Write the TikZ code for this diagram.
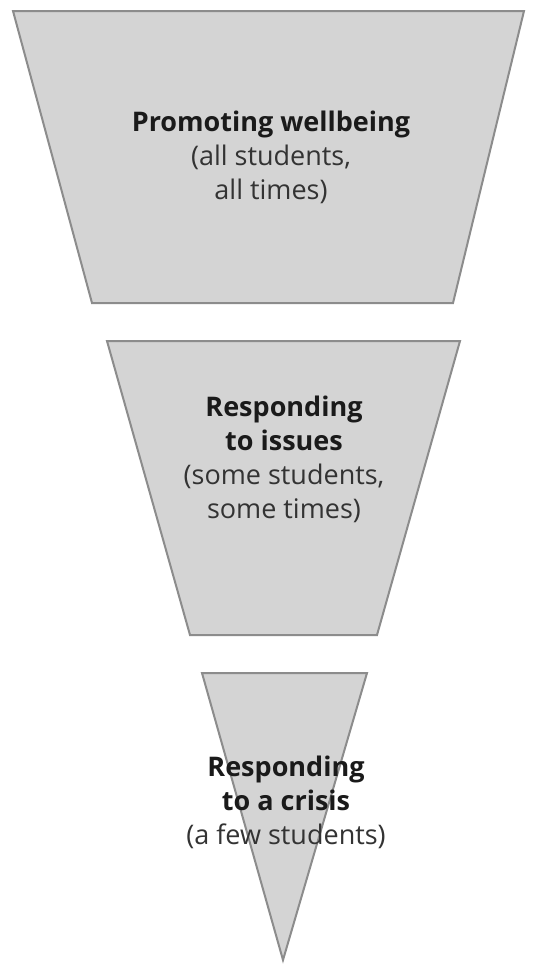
\documentclass[tikz,border=0pt]{standalone}
\usepackage{fontspec}
\setmainfont{Open Sans}
\definecolor{shapefill}{HTML}{D4D4D4}
\definecolor{shapeline}{HTML}{8C8C8C}
\definecolor{txt}{HTML}{333333}
\definecolor{txtb}{HTML}{1A1A1A}
\tikzset{
  tier/.style={fill=shapefill, draw=shapeline, line width=2pt, line join=miter},
  label/.style={align=center, text=txt, font=\fontsize{27}{34}\selectfont, inner sep=0pt},
}
\newcommand{\hd}[1]{{\color{txtb}\bfseries #1}}
\begin{document}
\begin{tikzpicture}[x=1pt,y=-1pt]
\useasboundingbox[fill=white] (0,0) rectangle (545,964);
\draw[tier] (13,11) -- (524,11) -- (453,303) -- (92,303) -- cycle;
\draw[tier] (107,341) -- (460,341) -- (377,635) -- (190,635) -- cycle;
\draw[tier] (202,673) -- (367,673) -- (283,960) -- cycle;
\node[label] (t1) at (271,157) {\hd{Promoting wellbeing}\\(all students,\\all times)};
\node[label] (t2) at (284,459) {\hd{Responding}\\\hd{to issues}\\(some students,\\some times)};
\node[label] (t3) at (286,802) {\hd{Responding}\\\hd{to a crisis}\\(a few students)};
\end{tikzpicture}
\end{document}
